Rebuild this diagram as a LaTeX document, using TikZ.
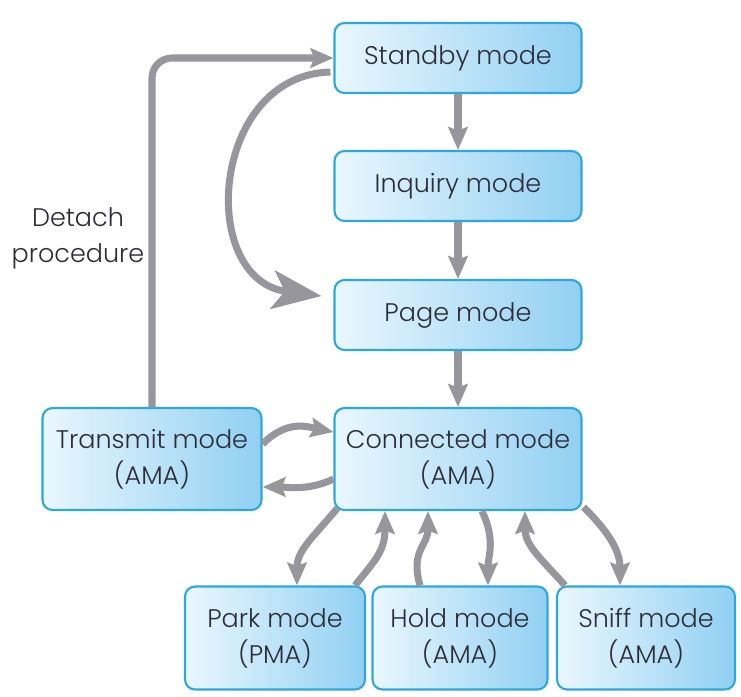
\documentclass[tikz,border=0pt]{standalone}
\usepackage{fontspec}
\IfFontExistsTF{Poppins Light}{\setmainfont{Poppins Light}}{\setmainfont{Poppins}}
\usetikzlibrary{positioning, arrows.meta, calc}

\definecolor{boxline}{RGB}{45,168,222}
\definecolor{boxlight}{RGB}{234,247,254}
\definecolor{boxdark}{RGB}{145,208,242}
\definecolor{arrowgray}{RGB}{150,150,156}
\definecolor{textgray}{RGB}{45,45,55}

\begin{document}
\begin{tikzpicture}[
    x=0.02cm, y=-0.02cm,
    mode/.style={rectangle, draw=boxline, line width=1.2pt, rounded corners=0.2cm,
                 left color=boxlight, right color=boxdark, text=textgray,
                 align=center, font=\fontsize{14.5}{20.5}\selectfont,
                 minimum width=4.94cm, minimum height=1.4cm, inner sep=0pt},
    arrow/.style={draw=arrowgray, line width=4pt,
                  -{Stealth[length=13pt, width=11pt, inset=2pt]}},
    bigarrow/.style={draw=arrowgray, line width=4pt,
                  -{Stealth[length=28pt, width=22pt, inset=7pt]}}
]
    \useasboundingbox (0,0) rectangle (741,697);

    % Main states
    \node[mode] (standby) at (458,58) {Standby mode};
    \node[mode] (inquiry) at (458,186) {Inquiry mode};
    \node[mode] (page) at (458,315) {Page mode};
    \node[mode, minimum height=2.04cm] (connected) at (458,459) {Connected mode\\(AMA)};
    \node[mode, minimum width=4.38cm, minimum height=2.04cm] (transmit) at (152,459) {Transmit mode\\(AMA)};

    % Low power states
    \node[mode, minimum width=3.6cm, minimum height=2.06cm] (park) at (275,638) {Park mode\\(PMA)};
    \node[mode, minimum width=3.5cm, minimum height=2.06cm] (hold) at (460,638) {Hold mode\\(AMA)};
    \node[mode, minimum width=3.56cm, minimum height=2.06cm] (sniff) at (646,638) {Sniff mode\\(AMA)};

    % Label
    \node[text=textgray, align=center, font=\fontsize{14.5}{20.5}\selectfont] (detach) at (78,238) {Detach\\procedure};

    % Vertical chain
    \draw[arrow] (standby) -- (inquiry);
    \draw[arrow] (inquiry) -- (page);
    \draw[arrow] (page) -- (connected);

    % Detach and skip
    \draw[arrow, rounded corners=0.4cm] (transmit.north) |- (standby.west);
    \draw[bigarrow] ($(standby.west)+(-3,14)$) .. controls +(-120,3) and +(-125,-16) .. ($(page.west)+(-12,-19)$);

    % Transmit <-> connected
    \draw[arrow] ($(transmit.east)+(0,-15)$) .. controls +(25,-25) and +(-25,-5) .. ($(connected.west)+(0,-27)$);
    \draw[arrow] ($(connected.west)+(0,20)$) .. controls +(-25,12) and +(25,0) .. ($(transmit.east)+(0,28)$);

    % Connected <-> low power states
    \draw[arrow] ($(connected.south west)+(4,-3)$) .. controls +(-25,30) and +(0,-35) .. ($(park.north)+(22,0)$);
    \draw[arrow] ($(park.north)+(80,0)$) .. controls +(20,-25) and +(0,40) .. ($(connected.south)+(-73,0)$);
    \draw[arrow] ($(hold.north)+(-40,0)$) .. controls +(-10,-35) and +(0,35) .. ($(connected.south)+(-30,0)$);
    \draw[arrow] ($(connected.south)+(24,0)$) .. controls +(14,30) and +(0,-30) .. ($(hold.north)+(28,0)$);
    \draw[arrow] ($(sniff.north)+(-81,0)$) .. controls +(-22,-25) and +(0,35) .. ($(connected.south)+(67,0)$);
    \draw[arrow] ($(connected.south east)+(1,-4)$) .. controls +(25,25) and +(0,-35) .. ($(sniff.north)+(-26,0)$);
\end{tikzpicture}
\end{document}
